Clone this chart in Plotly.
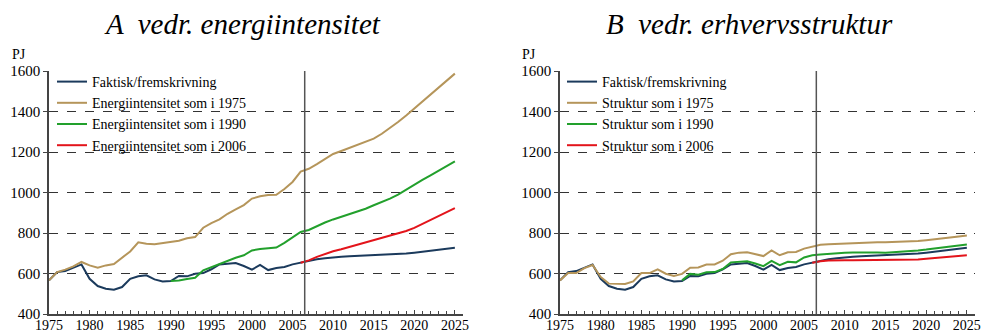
import plotly.graph_objects as go

# ---------------- data ----------------
years_hist = list(range(1975, 2026))

faktisk = [566, 607, 612, 629, 645, 574, 538, 525, 520, 533,
           574, 586, 591, 571, 561, 563, 588, 586, 599, 602,
           621, 645, 649, 652, 637, 619, 642, 617, 627, 632,
           645, 653, 663, 670, 675, 680, 683, 685, 687, 688,
           689, 691, 694, 697, 699, 703, 708, 713, 718, 723, 727]

# Panel A: energy intensity
ei_1975 = [566, 607, 619, 635, 657, 640, 629, 640, 647, 678,
           709, 754, 747, 744, 751, 757, 762, 774, 780, 826,
           849, 867, 895, 917, 938, 970, 981, 988, 989, 1017,
           1052, 1103, 1117, 1140, 1165, 1190, 1205, 1220, 1236, 1250,
           1266, 1290, 1318, 1348, 1380, 1414, 1446, 1480, 1515, 1550, 1587]

years_1990 = list(range(1990, 2026))
ei_1990 = [563, 566, 573, 579, 616, 632, 645, 665, 678, 690,
           714, 721, 726, 728, 751, 777, 805, 815, 835, 852,
           867, 880, 893, 905, 920, 937, 953, 970, 990, 1015,
           1040, 1062, 1085, 1108, 1131, 1154]

years_2006 = list(range(2006, 2026))
ei_2006 = [653, 665, 682, 697, 710, 720, 731, 741, 752, 763,
           774, 785, 796, 810, 825, 845, 865, 884, 903, 923]

# Panel B: industry structure
st_1975 = [566, 602, 602, 627, 642, 583, 550, 548, 548, 561,
           602, 602, 621, 599, 588, 598, 629, 630, 644, 645,
           663, 695, 703, 705, 696, 686, 714, 690, 705, 706,
           723, 731, 742, 745, 747, 748, 749, 751, 752, 754,
           754, 755, 756, 757, 760, 764, 768, 773, 778, 783, 788]

st_1990 = [566, 598, 594, 606, 607, 622, 655, 658, 660, 649,
           636, 662, 641, 658, 655, 679, 690, 694, 698, 701,
           703, 704, 705, 705, 704, 703, 705, 707, 710, 714,
           718, 723, 728, 733, 738, 743]

st_2006 = [653, 661, 664, 666, 666, 666, 666, 666, 666, 666,
           666, 666, 666, 669, 673, 677, 680, 684, 687, 690]

SPLIT_YEAR = 2006.5
x_ticks = list(range(1975, 2026, 5))
y_ticks = list(range(400, 1601, 200))

names_A = ["Faktisk/fremskrivning", "Energiintensitet som i 1975",
           "Energiintensitet som i 1990", "Energiintensitet som i 2006"]
names_B = ["Faktisk/fremskrivning", "Struktur som i 1975",
           "Struktur som i 1990", "Struktur som i 2006"]

colors = ["#1B3A5C", "#B5955A", "#22A02C", "#E3141B"]

W, H = 982, 333
FONT = "Liberation Serif"

fig = go.Figure()

series_A = [(years_hist, faktisk), (years_hist, ei_1975), (years_1990, ei_1990), (years_2006, ei_2006)]
series_B = [(years_hist, faktisk), (years_hist, st_1975), (years_1990, st_1990), (years_2006, st_2006)]

for i, (xs, ys) in enumerate(series_A):
    fig.add_trace(go.Scatter(x=xs, y=ys, mode="lines", name=names_A[i],
                             line=dict(color=colors[i], width=2),
                             xaxis="x", yaxis="y", legend="legend"))
for i, (xs, ys) in enumerate(series_B):
    fig.add_trace(go.Scatter(x=xs, y=ys, mode="lines", name=names_B[i],
                             line=dict(color=colors[i], width=2),
                             xaxis="x2", yaxis="y2", legend="legend2"))

ydom = [1 - 314 / H, 1 - 71 / H]
xdomA = [49 / W, 463 / W]
xdomB = [560 / W, 975 / W]

def xaxis(dom, anchor):
    return dict(domain=dom, anchor=anchor, range=[1975, 2026], tickvals=x_ticks,
                showgrid=False, zeroline=False, showline=True, linecolor="#444",
                linewidth=1.5, ticks="inside", ticklen=4, tickcolor="#444",
                minor=dict(dtick=1, tick0=1975, ticks="inside", ticklen=3, tickcolor="#444"),
                ticklabelstandoff=-3, automargin=False,
                tickfont=dict(family=FONT, size=14, color="black"))

def yaxis(anchor):
    return dict(domain=ydom, anchor=anchor, range=[400, 1600], tickvals=y_ticks,
                showgrid=True, gridcolor="#333", griddash="dash", gridwidth=1,
                zeroline=False, showline=True, linecolor="#444", linewidth=1.5,
                ticks="outside", ticklen=4, tickcolor="#444", automargin=False,
                tickfont=dict(family=FONT, size=15, color="black"))

legend_common = dict(bgcolor="rgba(255,255,255,0)", borderwidth=0,
                     font=dict(family=FONT, size=14, color="black"),
                     xanchor="left", yanchor="top", tracegroupgap=0, itemwidth=30)

fig.update_layout(
    width=W, height=H, margin=dict(l=0, r=0, t=0, b=0, autoexpand=False),
    paper_bgcolor="white", plot_bgcolor="white",
    xaxis=xaxis(xdomA, "y"), yaxis=yaxis("x"),
    xaxis2=xaxis(xdomB, "y2"), yaxis2=yaxis("x2"),
    legend=dict(x=52 / W, y=1 - 66 / H, **legend_common),
    legend2=dict(x=562 / W, y=1 - 66 / H, **legend_common),
    font=dict(family=FONT, color="black"),
)

# white band hiding the 1400 gridline behind each legend
for yr, x0, x1 in [("y", 57, 253), ("y2", 562, 733)]:
    fig.add_shape(type="rect", xref="paper", yref=yr, x0=x0 / W, x1=x1 / W,
                  y0=1380, y1=1420, fillcolor="white", line_width=0, layer="between")

for xr, yr in [("x", "y"), ("x2", "y2")]:
    fig.add_shape(type="line", xref=xr, yref=yr, x0=SPLIT_YEAR, x1=SPLIT_YEAR,
                  y0=400, y1=1600, line=dict(color="#555", width=1.5))

titles = [("A  vedr. energiintensitet", 242), ("B  vedr. erhvervsstruktur", 749)]
for text, cx in titles:
    fig.add_annotation(text=text, x=cx / W, y=1 - 24 / H, xref="paper", yref="paper",
                       showarrow=False, xanchor="center", yanchor="middle",
                       font=dict(family=FONT, size=29, color="black", style="italic"))

for px in [19, 529]:
    fig.add_annotation(text="PJ", x=px / W, y=1 - 55 / H, xref="paper", yref="paper",
                       showarrow=False, xanchor="center", yanchor="middle",
                       font=dict(family=FONT, size=14, color="black"))

fig.write_html("out.html", config={"displayModeBar": False},
               post_script="document.body.style.margin='0';")
